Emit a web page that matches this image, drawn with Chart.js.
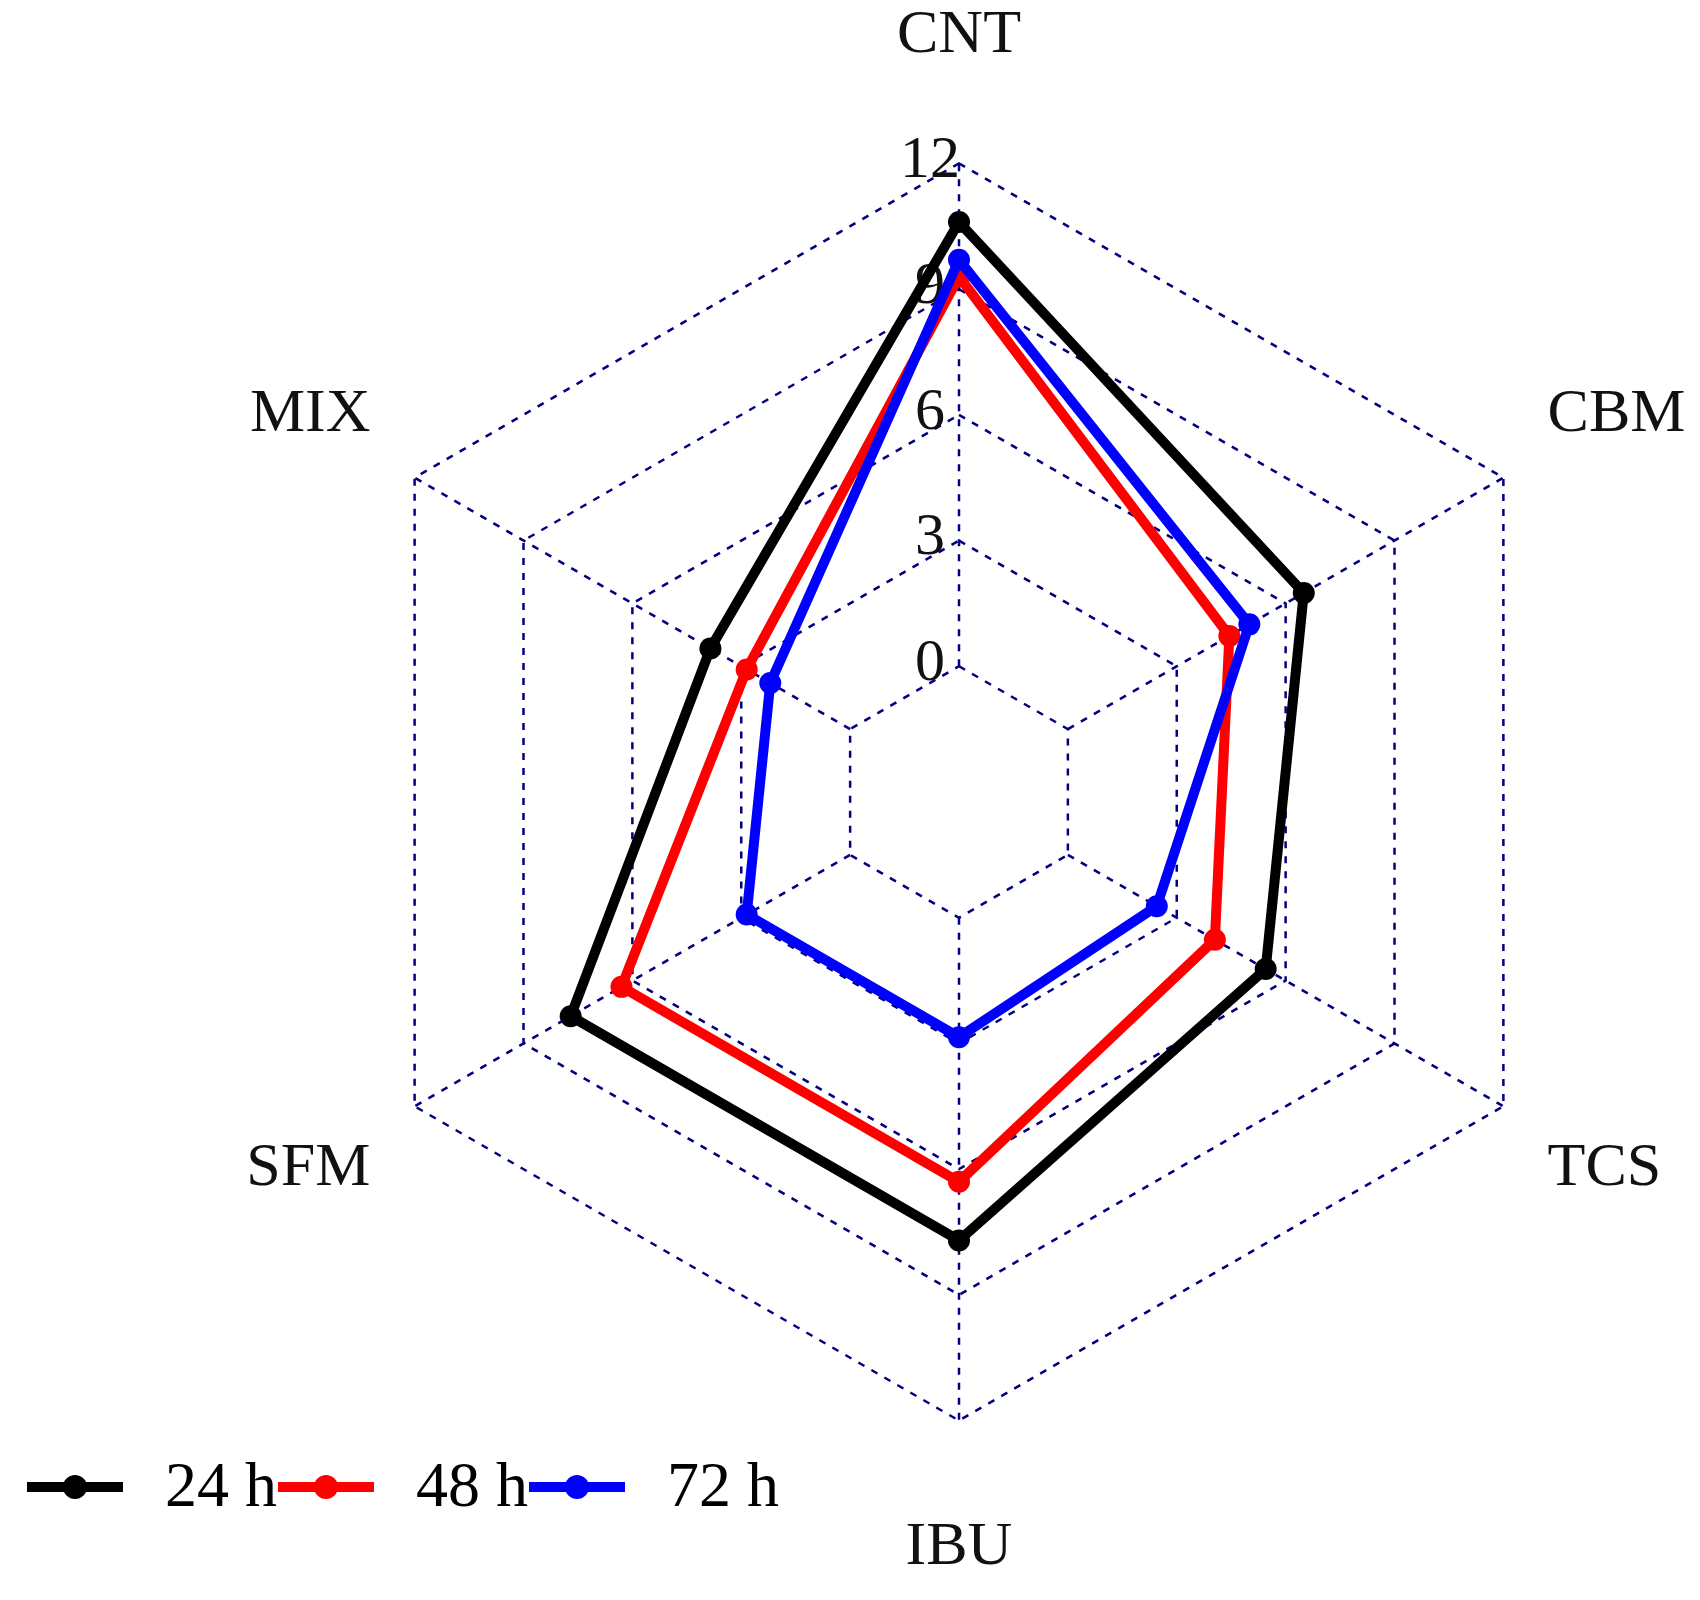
<!DOCTYPE html>
<html>
<head>
<meta charset="utf-8">
<script src="https://cdn.jsdelivr.net/npm/chart.js@4.4.1/dist/chart.umd.min.js"></script>
<style>
    html, body { margin: 0; padding: 0; background: #ffffff; }
    #wrap { width: 1700px; height: 1600px; position: relative; }
</style>
</head>
<body>
<div id="wrap"><canvas id="radarChart"></canvas></div>
<script>
// Axes, clockwise from the top
const categories = ['CNT', 'CBM', 'TCS', 'IBU', 'SFM', 'MIX'];

// Values
const series24h = [10.6, 6.5, 5.45, 7.7, 7.7, 3.85];
const series48h = [9.3, 4.45, 4.05, 6.3, 6.3, 2.85];
const series72h = [9.7, 5.0, 2.45, 2.85, 2.85, 2.2];

const seriesNames = ['24 h', '48 h', '72 h'];
const seriesColors = ['#000000', '#ff0000', '#0000ff'];

// Ring labels on the top spoke
const tickLabels = [0, 3, 6, 9, 12];

const serif = "'Liberation Serif', 'Times New Roman', serif";
const gridColor = '#000080';

// Spokes run from the 0 ring outwards (the inner hexagon stays empty),
// then the tick values are written left of the top spoke, under the data
const axisPlugin = {
    id: 'axisDecor',
    beforeDatasetsDraw(chart) {
        const scale = chart.scales.r;
        const ctx = chart.ctx;
        const inner = scale.getDistanceFromCenterForValue(tickLabels[0]);
        const outer = scale.getDistanceFromCenterForValue(scale.max);

        ctx.save();
        ctx.strokeStyle = gridColor;
        ctx.lineWidth = 2.5;
        ctx.setLineDash([7, 8]);
        categories.forEach((c, i) => {
            const a = scale.getPointPosition(i, inner);
            const b = scale.getPointPosition(i, outer);
            ctx.beginPath();
            ctx.moveTo(a.x, a.y);
            ctx.lineTo(b.x, b.y);
            ctx.stroke();
        });
        ctx.restore();

        ctx.save();
        ctx.font = '60px ' + serif;
        ctx.fillStyle = '#111111';
        ctx.textAlign = 'center';
        ctx.textBaseline = 'middle';
        tickLabels.forEach(v => {
            const d = scale.getDistanceFromCenterForValue(v);
            ctx.fillText(String(v), scale.xCenter - 29, scale.yCenter - d - 2);
        });
        ctx.restore();
    }
};

// Legend in the bottom-left corner, overlapping the plot as in the original
const bottomLegendPlugin = {
    id: 'bottomLegend',
    afterDraw(chart) {
        const ctx = chart.ctx;
        const y = 1487;
        ctx.save();
        ctx.font = '64px ' + serif;
        ctx.textBaseline = 'middle';
        ctx.textAlign = 'left';
        chart.data.datasets.forEach((ds, i) => {
            const x = 27 + i * 251;
            ctx.strokeStyle = ds.borderColor;
            ctx.lineWidth = 10;
            ctx.beginPath();
            ctx.moveTo(x, y);
            ctx.lineTo(x + 96, y);
            ctx.stroke();
            ctx.fillStyle = ds.borderColor;
            ctx.beginPath();
            ctx.arc(x + 48, y, 12, 0, Math.PI * 2);
            ctx.fill();
            ctx.fillStyle = '#000000';
            ctx.fillText(ds.label, x + 138, y + 2);
        });
        ctx.restore();
    }
};

function makeDataset(label, values, color, order) {
    return {
        label: label,
        data: values,
        borderColor: color,
        backgroundColor: 'transparent',
        pointBackgroundColor: color,
        pointBorderColor: color,
        pointBorderWidth: 0,
        pointRadius: 11,
        borderWidth: 10,
        fill: false,
        order: order
    };
}

const ctx = document.getElementById('radarChart').getContext('2d');
const radarChart = new Chart(ctx, {
    type: 'radar',
    data: {
        labels: categories,
        datasets: [
            makeDataset(seriesNames[0], series24h, seriesColors[0], 3),
            makeDataset(seriesNames[1], series48h, seriesColors[1], 2),
            makeDataset(seriesNames[2], series72h, seriesColors[2], 1)
        ]
    },
    options: {
        responsive: true,
        maintainAspectRatio: false,
        animation: false,
        layout: {
            padding: { left: 234, right: 0, top: 0, bottom: 14 }
        },
        elements: {
            line: { tension: 0 }
        },
        plugins: {
            legend: { display: false },
            tooltip: { enabled: false }
        },
        scales: {
            r: {
                min: -3,
                max: 12,
                ticks: { display: false, stepSize: 3 },
                grid: { color: gridColor, lineWidth: 2.5 },
                border: { dash: [7, 8] },
                angleLines: { display: false },
                pointLabels: {
                    color: '#111111',
                    font: { family: serif, size: 62 },
                    padding: c => (c.index % 3 === 0 ? 90 : 51)
                }
            }
        }
    },
    plugins: [axisPlugin, bottomLegendPlugin]
});
</script>
</body>
</html>
